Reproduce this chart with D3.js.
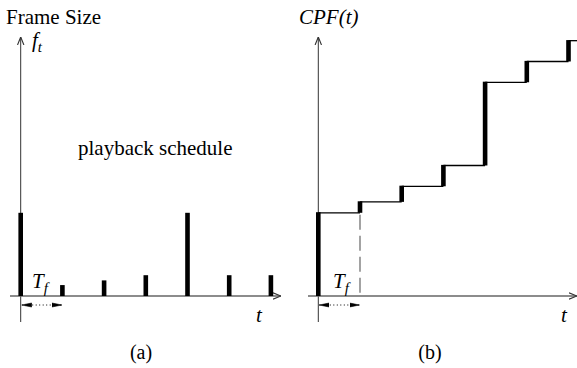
<!DOCTYPE html>
<html>
<head>
<meta charset="utf-8">
<script src="https://cdn.jsdelivr.net/npm/d3@7"></script>
</head>
<body style="margin:0">
<svg id="chart" width="577" height="368"></svg>
<script>
// frame sizes f_t, one frame every T_f
var frame_index = [0, 1, 2, 3, 4, 5, 6],
    frame_size = [8, 1.05, 1.5, 2, 8, 2, 2];

var svg = d3.select("#chart");

// cumulative playback frames CPF(t)
var cpf = d3.cumsum(frame_size);

var y = d3.scaleLinear().domain([0, 25]).range([296, 36]),
    x_a = d3.scaleLinear().domain([0, 6]).range([20.7, 270.9]),
    x_b = d3.scaleLinear().domain([0, 6]).range([318.3, 568.5]),
    bar_w = 4.6;

var defs = svg.append("defs");
defs.append("marker").attr("id", "ax-arrow")
    .attr("viewBox", "0 0 10 10").attr("refX", 10).attr("refY", 5)
    .attr("markerWidth", 8).attr("markerHeight", 8).attr("markerUnits", "userSpaceOnUse")
    .attr("orient", "auto")
    .append("path").attr("d", "M 0 1 L 10 5 L 0 9").attr("fill", "none").attr("stroke", "#333").attr("stroke-width", 1.4);
defs.append("marker").attr("id", "tf-arrow")
    .attr("viewBox", "0 0 10 10").attr("refX", 10).attr("refY", 5)
    .attr("markerWidth", 10).attr("markerHeight", 10).attr("markerUnits", "userSpaceOnUse")
    .attr("orient", "auto-start-reverse")
    .append("path").attr("d", "M 0 3 L 10 5 L 0 7 z").attr("fill", "#000").attr("stroke", "#000").attr("stroke-width", 0.6);

function axes(g, x0, xs, x_end) {
    // y axis
    g.append("line").attr("x1", x0).attr("x2", x0).attr("y1", 322).attr("y2", 37)
        .attr("stroke", "#333").attr("stroke-width", 1).attr("marker-end", "url(#ax-arrow)");
    // x axis
    g.append("line").attr("x1", xs).attr("x2", x_end).attr("y1", y(0)).attr("y2", y(0))
        .attr("stroke", "#666").attr("stroke-width", 1.3).attr("marker-end", "url(#ax-arrow)");
}

function tf_arrow(g, x) {
    g.append("line").attr("x1", x(0) + 1).attr("x2", x(1) - 0.5).attr("y1", 305).attr("y2", 305)
        .attr("stroke", "#000").attr("stroke-width", 1).attr("stroke-dasharray", "1 2.5")
        .attr("marker-start", "url(#tf-arrow)").attr("marker-end", "url(#tf-arrow)");
}

// ---- (a) playback schedule
var ga = svg.append("g");
axes(ga, x_a(0), 10, 281);

ga.selectAll("rect.frame").data(frame_index).enter().append("rect")
    .attr("class", "frame")
    .attr("x", function (d) { return x_a(d) - bar_w / 2; })
    .attr("y", function (d) { return y(frame_size[d]); })
    .attr("width", bar_w)
    .attr("height", function (d) { return y(0) - y(frame_size[d]); })
    .attr("fill", "#000");
tf_arrow(ga, x_a);

// ---- (b) cumulative playback frames
var gb = svg.append("g");
axes(gb, x_b(0), 308, 577);

// dashed line at t = T_f
gb.append("line").attr("x1", x_b(1)).attr("x2", x_b(1)).attr("y1", y(cpf[0]) + 2).attr("y2", y(0))
    .attr("stroke", "#666").attr("stroke-width", 1.2).attr("stroke-dasharray", "15 6");

// horizontal treads
gb.selectAll("line.tread").data(frame_index).enter().append("line")
    .attr("class", "tread")
    .attr("x1", function (d) { return x_b(d); })
    .attr("x2", function (d) { return d < frame_index.length - 1 ? x_b(d + 1) : 577; })
    .attr("y1", function (d) { return y(cpf[d]); })
    .attr("y2", function (d) { return y(cpf[d]); })
    .attr("stroke", "#000").attr("stroke-width", 1.3);

// thick risers
gb.selectAll("rect.riser").data(frame_index).enter().append("rect")
    .attr("class", "riser")
    .attr("x", function (d) { return x_b(d) - bar_w / 2; })
    .attr("y", function (d) { return y(cpf[d]) - 0.6; })
    .attr("width", bar_w)
    .attr("height", function (d) { return y(d ? cpf[d - 1] : 0) - y(cpf[d]) + 0.6; })
    .attr("fill", "#000");
tf_arrow(gb, x_b);

// ---- texts, straight on the svg root
function label(x, y0, size, txt, italic, anchor) {
    return svg.append("text").attr("x", x).attr("y", y0)
        .attr("font-family", "Liberation Serif, Times New Roman, serif")
        .attr("font-size", size)
        .attr("font-style", italic ? "italic" : "normal")
        .attr("text-anchor", anchor || "start")
        .attr("fill", "#000").text(txt);
}
function sub_label(x, y0, main, sub) {
    var t = label(x, y0, 21, main, true);
    t.append("tspan").attr("font-size", 15).attr("dy", 5).text(sub);
}

label(6, 24, 21, "Frame Size");
sub_label(32, 47, "f", "t");
label(78, 155, 21, "playback schedule");
sub_label(32, 288, "T", "f");
label(256, 322, 21, "t", true);
label(141, 359, 20, "(a)", false, "middle");

label(299, 24, 21, "CPF(t)", true);
sub_label(333, 288, "T", "f");
label(561, 322, 21, "t", true);
label(430, 359, 20, "(b)", false, "middle");
</script>
</body>
</html>
